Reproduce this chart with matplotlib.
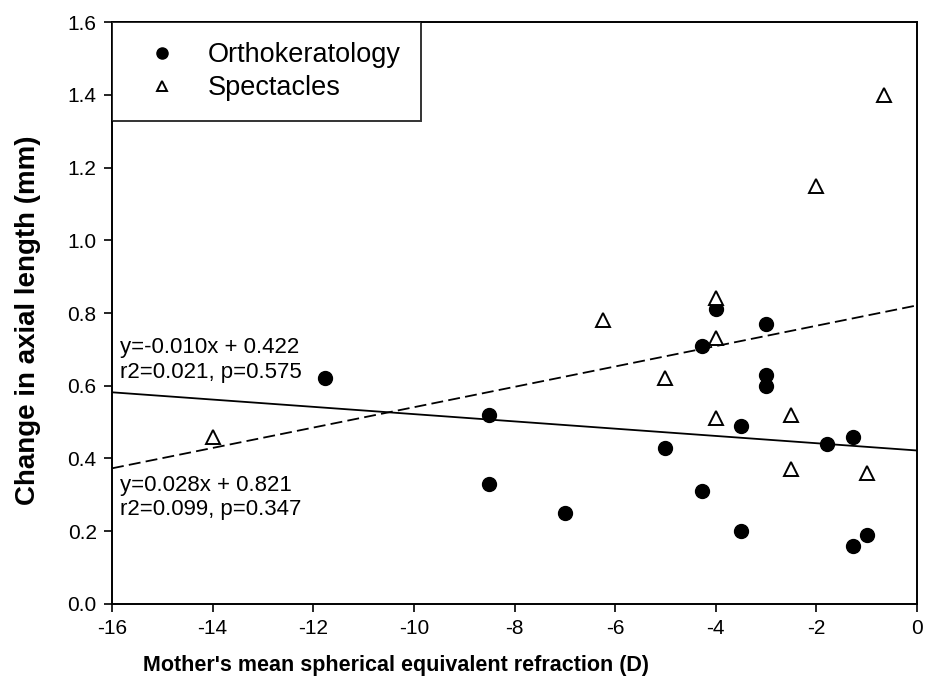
import numpy as np
import matplotlib.pyplot as plt

plt.rcParams['font.family'] = ['Liberation Sans', 'DejaVu Sans']
plt.rcParams['axes.unicode_minus'] = False

# Orthokeratology group
ortho_x = [-11.77, -8.5, -8.5, -7.0, -5.0, -4.28, -4.28, -4.0, -3.5, -3.5,
           -3.0, -3.0, -3.0, -1.78, -1.28, -1.28, -1.0]
ortho_y = [0.62, 0.52, 0.33, 0.25, 0.43, 0.71, 0.31, 0.81, 0.49, 0.20,
           0.77, 0.63, 0.60, 0.44, 0.46, 0.16, 0.19]

# Spectacles group
spec_x = [-14.0, -6.25, -5.0, -4.0, -4.0, -4.0, -2.5, -2.5, -2.0, -1.0, -0.65]
spec_y = [0.46, 0.78, 0.62, 0.84, 0.73, 0.51, 0.52, 0.37, 1.15, 0.36, 1.40]

# Regression fits (slope, intercept)
ortho_fit = (-0.010, 0.422)
spec_fit = (0.028, 0.821)

fig = plt.figure(figsize=(9.25, 6.89), dpi=100)
ax = fig.add_axes([0.1211, 0.1234, 0.8703, 0.8446])

xs = np.array([-16, 0])
ax.plot(xs, ortho_fit[0] * xs + ortho_fit[1], color='black', lw=1.3)
ax.plot(xs, spec_fit[0] * xs + spec_fit[1], color='black', lw=1.3,
        linestyle=(0, (6.6, 2.9)))

ax.plot(ortho_x, ortho_y, 'o', color='black', ms=10, label='Orthokeratology')
ax.plot(spec_x, spec_y, '^', mfc='white', mec='black', mew=1.4, ms=9.5,
        label='Spectacles')

ax.text(-15.85, 0.704, 'y=-0.010x + 0.422', fontsize=16, va='center')
ax.text(-15.85, 0.637, 'r2=0.021, p=0.575', fontsize=16, va='center')
ax.text(-15.85, 0.327, 'y=0.028x + 0.821', fontsize=16, va='center')
ax.text(-15.85, 0.259, 'r2=0.099, p=0.347', fontsize=16, va='center')

ax.set_xlim(-16, 0)
ax.set_ylim(0, 1.6)
ax.set_xticks(np.arange(-16, 1, 2))
ax.set_yticks(np.arange(0, 1.61, 0.2))
ax.set_yticklabels([f'{v:.1f}' for v in np.arange(0, 1.61, 0.2)])
ax.tick_params(direction='out', length=6, width=1.2, labelsize=15, pad=5)
for s in ax.spines.values():
    s.set_linewidth(1.4)

ax.set_xlabel("Mother's mean spherical equivalent refraction (D)",
              fontsize=15.5, fontweight='bold')
ax.xaxis.set_label_coords(0.353, -0.088)
ax.set_ylabel('Change in axial length (mm)', fontsize=20, fontweight='bold')
ax.yaxis.set_label_coords(-0.088, 0.488)

leg = ax.legend(loc='upper left', fontsize=19.5, frameon=True, fancybox=False,
                borderaxespad=0, markerscale=0.8, handletextpad=0.6,
                borderpad=0.75, labelspacing=0.25, handlelength=2.2)
leg.get_frame().set_edgecolor('black')
leg.get_frame().set_linewidth(1.4)

fig.savefig('out.png', dpi=100)
